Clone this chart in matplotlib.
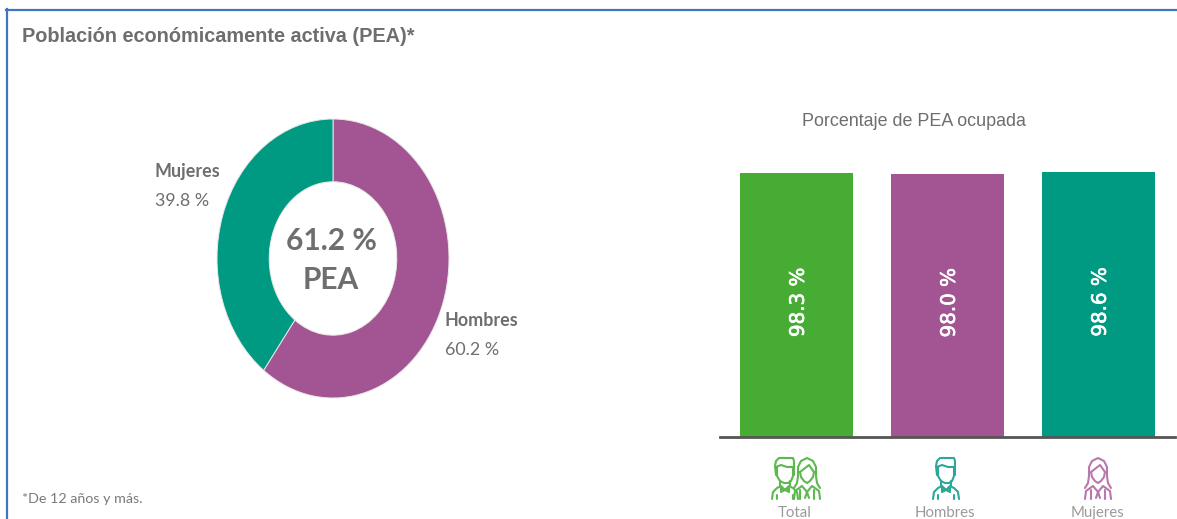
import matplotlib
matplotlib.use("Agg")
import matplotlib.pyplot as plt
import matplotlib.patheffects as pe
from matplotlib.lines import Line2D

W, H = 1177, 519

title = "Población económicamente activa (PEA)*"
footnote = "*De 12 años y más."
pie_labels = ["Hombres", "Mujeres"]
pie_values = [60.2, 39.8]
pie_colors = ["#A25592", "#009982"]
center_lines = ["61.2 %", "PEA"]
bar_title = "Porcentaje de PEA ocupada"
bar_cats = ["Total", "Hombres", "Mujeres"]
bar_values = [98.3, 98.0, 98.6]
bar_colors = ["#46AC34", "#A25592", "#009982"]
icon_colors = ["#5CB84F", "#2BA897", "#B878AC"]

plt.rcParams['font.family'] = ['Lato', 'DejaVu Sans']
fig = plt.figure(figsize=(W/100, H/100), dpi=100, facecolor='white')

def rect(x0, y0, x1, y1):
    return [x0/W, 1-y1/H, (x1-x0)/W, (y1-y0)/H]

ov = fig.add_axes([0, 0, 1, 1], zorder=5)
ov.set_xlim(0, W); ov.set_ylim(H, 0); ov.axis('off'); ov.patch.set_alpha(0)

# frame
ov.add_line(Line2D([6, W], [9.5, 9.5], color="#4472C4", lw=1.6))
ov.add_line(Line2D([6.5, 6.5], [9, H], color="#4472C4", lw=1.6))

grey = "#6E6E6E"
ov.text(22, 37, title, fontsize=14.3, fontweight='bold', color=grey, va='center', ha='left',
        family=['Liberation Sans'])
ov.text(22, 499, footnote, fontsize=10.3, color="#7A7A7A", va='center', ha='left')

# donut
ax = fig.add_axes(rect(217, 119, 449, 398))
ax.pie(pie_values, colors=pie_colors, startangle=90, counterclock=False, radius=1,
       wedgeprops=dict(width=0.45, edgecolor='#E8E8E8', linewidth=0.7))
ax.set_aspect('auto'); ax.set_xlim(-1, 1); ax.set_ylim(-1, 1)

ov.text(331, 241, center_lines[0], fontsize=21.5, fontweight='bold', color=grey, ha='center', va='center')
ov.text(331, 280, center_lines[1], fontsize=21.5, fontweight='bold', color=grey, ha='center', va='center')
ov.text(155, 172, pie_labels[1], fontsize=12.9, fontweight='bold', color=grey, va='center')
ov.text(155, 201, f"{pie_values[1]} %", fontsize=12.9, color=grey, va='center')
ov.text(445, 321, pie_labels[0], fontsize=12.9, fontweight='bold', color=grey, va='center')
ov.text(445, 350, f"{pie_values[0]} %", fontsize=12.9, color=grey, va='center')

# bars
bx = fig.add_axes(rect(720, 160, 1175, 437))
ymax = 277 / 2.686
bx.bar(range(3), bar_values, width=0.75, color=bar_colors)
bx.set_xlim((720-796.5)/151, (1175-796.5)/151)
bx.set_ylim(0, ymax)
for s in ['top', 'left', 'right']:
    bx.spines[s].set_visible(False)
bx.spines['bottom'].set_color("#555555"); bx.spines['bottom'].set_linewidth(2)
bx.set_yticks([])
bx.set_xticks(range(3)); bx.set_xticklabels([])
bx.tick_params(length=0)
bx.patch.set_alpha(0)
for i, v in enumerate(bar_values):
    bx.text(i + 0.012, v/2 + 1.0, f"{v} %", rotation=90, color='white', fontsize=14.3,
            ha='center', va='center', family=['DejaVu Sans'],
            path_effects=[pe.withStroke(linewidth=0.5, foreground='white')])

ov.text(914, 122, bar_title, fontsize=12.85, color=grey, ha='center', va='center',
        family=['Liberation Sans'])
cat_x = [795, 945, 1098]
for x, c in zip(cat_x, bar_cats):
    ov.text(x, 513, c, fontsize=10.8, color="#9A9A9A", ha='center', va='center')

# person icons (decorative)
LW = 1.5
def pl(xs, ys, col):
    ov.add_line(Line2D(xs, ys, color=col, lw=LW, solid_joinstyle='round', solid_capstyle='round'))

def man(cx, col):
    pl([cx-9, cx-10, cx-9, cx-6, cx+8, cx+9, cx+9], [475, 466, 461, 458, 458, 461, 475], col)
    pl([cx-9, cx-4, cx+2, cx+9], [467, 465, 467, 467], col)
    pl([cx-8, cx-8, cx-5, cx-1, cx+3, cx+6, cx+8, cx+8],
       [467, 476, 481, 483, 483, 481, 476, 467], col)
    pl([cx-13, cx-12, cx-8, cx-4, cx, cx+4, cx+8, cx+12, cx+13],
       [499, 492, 488, 486, 490, 486, 488, 492, 499], col)
    pl([cx-5, cx-5], [481, 486], col); pl([cx+5, cx+5], [481, 486], col)
    pl([cx-8, cx-8], [495, 499], col); pl([cx+8, cx+8], [495, 499], col)
    pl([cx-4, cx+4, cx+4, cx-4, cx-4], [488, 492, 488, 492, 488], col)

def woman(cx, col):
    pl([cx-13, cx-10, cx-9, cx-9, cx-6, cx, cx+6, cx+9, cx+9, cx+10, cx+13],
       [488, 483, 476, 467, 461, 458, 461, 467, 476, 483, 488], col)
    pl([cx-7, cx+2, cx+7], [472, 465, 472], col)
    pl([cx-7, cx-6, cx-3, cx, cx+3, cx+6, cx+7], [472, 477, 481, 483, 481, 477, 472], col)
    pl([cx-13, cx-12, cx-5, cx, cx+5, cx+12, cx+13], [499, 491, 486, 492, 486, 491, 499], col)
    pl([cx-7, cx-7], [490, 499], col); pl([cx+7, cx+7], [490, 499], col)
    pl([cx-2, cx, cx+2], [498, 492, 498], col)

man(785, icon_colors[0]); woman(807, icon_colors[0])
man(946, icon_colors[1])
woman(1098, icon_colors[2])

fig.savefig("out.png", dpi=100)
